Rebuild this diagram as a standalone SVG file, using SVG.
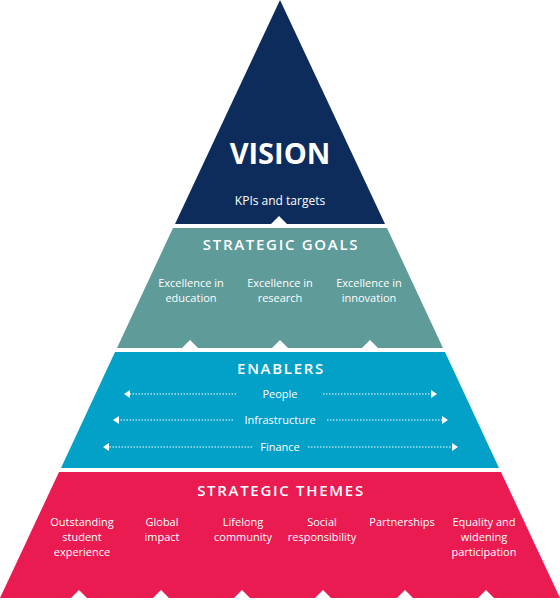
<svg xmlns="http://www.w3.org/2000/svg" width="560" height="601" viewBox="0 0 560 601">
<style>
text{font-family:"Open Sans","Noto Sans","Liberation Sans",sans-serif;fill:#fff;text-anchor:middle}
.t{font-size:11px}
.h{font-size:15px;font-weight:600;letter-spacing:1.7px}
.notch{fill:#fff}
.dl{stroke:#fff;stroke-width:1;stroke-dasharray:1.5 1.5;fill:none}
</style>
<defs>
<marker id="ah" viewBox="0 0 6 8" refX="5" refY="4" markerWidth="6" markerHeight="8" markerUnits="userSpaceOnUse" orient="auto-start-reverse">
<path d="M0,0 L6,4 L0,8 Z" fill="#fff"/>
</marker>
</defs>
<rect width="560" height="601" fill="#fff"/>
<g id="vision">
<polygon points="280,0 385,224 175,224" fill="#0d2c5c"/>
<polygon class="notch" points="271,224 279,216 287,224"/>
<text x="280" y="164" style="font-size:29px;font-weight:700">VISION</text>
<text x="280" y="205" style="font-size:12px">KPIs and targets</text>
</g>
<g id="strategic-goals">
<polygon points="173,228 387,228 443,348 117,348" fill="#5e9b99"/>
<polygon class="notch" points="182,348 190,340 198,348"/>
<polygon class="notch" points="272,348 280,340 288,348"/>
<polygon class="notch" points="362,348 370,340 378,348"/>
<text class="h" x="281" y="250">STRATEGIC GOALS</text>
<text class="t" y="287"><tspan x="191">Excellence in</tspan><tspan x="191" dy="15">education</tspan></text>
<text class="t" y="287"><tspan x="280">Excellence in</tspan><tspan x="280" dy="15">research</tspan></text>
<text class="t" y="287"><tspan x="369">Excellence in</tspan><tspan x="369" dy="15">innovation</tspan></text>
</g>
<g id="enablers">
<polygon points="115,352 445,352 499,468 61,468" fill="#03a0c7"/>
<text class="h" x="281" y="374">ENABLERS</text>
<text class="t" x="280" y="398">People</text>
<text class="t" x="280" y="424">Infrastructure</text>
<text class="t" x="280" y="451">Finance</text>
</g>
<g id="strategic-themes">
<polygon points="59,472 501,472 560,598 0,598" fill="#e91b50"/>
<polygon class="notch" points="71,598 79,590 87,598"/>
<polygon class="notch" points="153,598 161,590 169,598"/>
<polygon class="notch" points="234,598 242,590 250,598"/>
<polygon class="notch" points="315,598 323,590 331,598"/>
<polygon class="notch" points="397,598 405,590 413,598"/>
<polygon class="notch" points="478,598 486,590 494,598"/>
<text class="h" x="281" y="496">STRATEGIC THEMES</text>
<text class="t" y="526"><tspan x="82">Outstanding</tspan><tspan x="82" dy="15">student</tspan><tspan x="82" dy="15">experience</tspan></text>
<text class="t" y="526"><tspan x="162">Global</tspan><tspan x="162" dy="15">impact</tspan></text>
<text class="t" y="526"><tspan x="243">Lifelong</tspan><tspan x="243" dy="15">community</tspan></text>
<text class="t" y="526"><tspan x="322">Social</tspan><tspan x="322" dy="15">responsibility</tspan></text>
<text class="t" x="402" y="526">Partnerships</text>
<text class="t" y="526"><tspan x="484">Equality and</tspan><tspan x="484" dy="15">widening</tspan><tspan x="484" dy="15">participation</tspan></text>
</g>
<g id="connectors">
<line class="dl" x1="236" y1="394" x2="125" y2="394" marker-end="url(#ah)"/>
<line class="dl" x1="323" y1="394" x2="436" y2="394" marker-end="url(#ah)"/>
<line class="dl" x1="233" y1="420" x2="114" y2="420" marker-end="url(#ah)"/>
<line class="dl" x1="327" y1="420" x2="447" y2="420" marker-end="url(#ah)"/>
<line class="dl" x1="252" y1="447" x2="104" y2="447" marker-end="url(#ah)"/>
<line class="dl" x1="308" y1="447" x2="457" y2="447" marker-end="url(#ah)"/>
</g>
</svg>
